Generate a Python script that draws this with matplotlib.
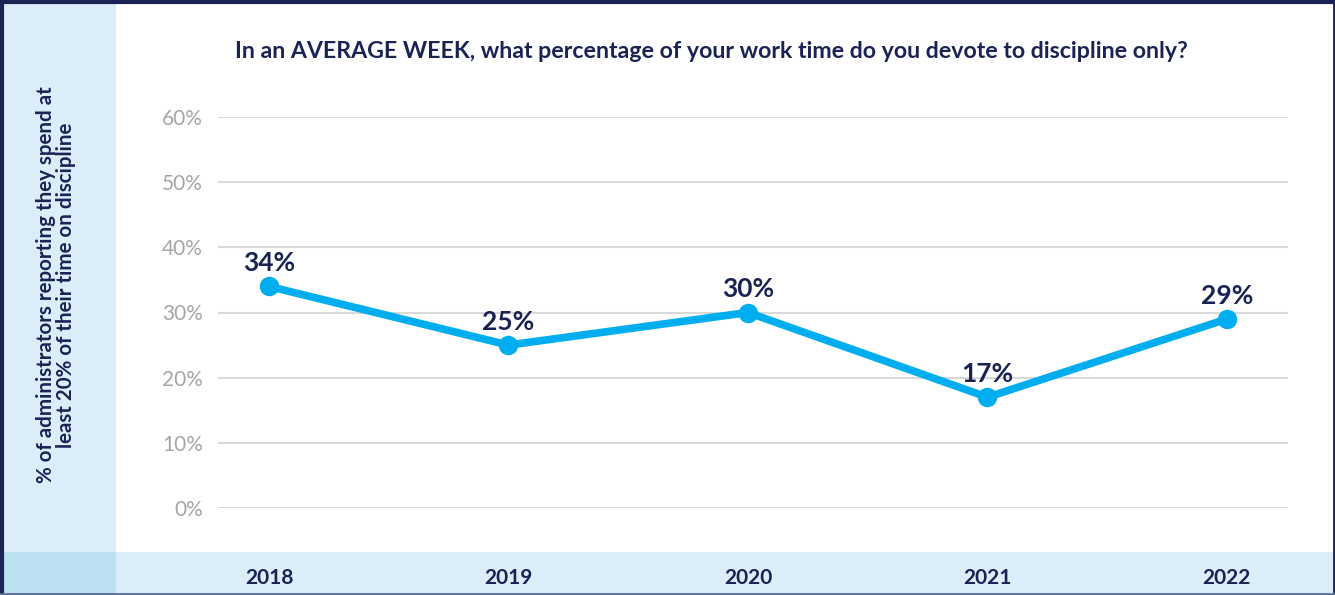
import matplotlib.pyplot as plt
from matplotlib.patches import Rectangle
from matplotlib.lines import Line2D

years = ['2018', '2019', '2020', '2021', '2022']
share = [34, 25, 30, 17, 29]
y_ticks = [0, 10, 20, 30, 40, 50, 60]

NAVY = '#1b2354'
CYAN = '#00aeef'
PALE = '#daedf8'
PALE_DARK = '#bde0f3'
GRID = '#d9d9d9'
TICK = '#a6a6a6'

plt.rcParams['font.family'] = ['Lato', 'DejaVu Sans']

W, H = 1335, 595
fig = plt.figure(figsize=(W / 100, H / 100), dpi=100)
fig.patch.set_facecolor('white')

# side panel and bottom band
for rect, col in [((0, 0, 116, H), PALE), ((0, 0, W, 43), PALE), ((0, 0, 116, 43), PALE_DARK)]:
    x0, y0, w, h = rect
    fig.patches.append(Rectangle((x0 / W, y0 / H), w / W, h / H, transform=fig.transFigure,
                                 facecolor=col, edgecolor='none', zorder=-5))

# frame
fig.lines.append(Line2D([0, 1], [1 - 1.5 / H, 1 - 1.5 / H], transform=fig.transFigure,
                        color=NAVY, lw=3))
fig.lines.append(Line2D([1.5 / W, 1.5 / W], [0, 1], transform=fig.transFigure,
                        color=NAVY, lw=3))
fig.lines.append(Line2D([1 - 1 / W, 1 - 1 / W], [0, 1], transform=fig.transFigure,
                        color=NAVY, lw=2))
fig.lines.append(Line2D([0, 1], [1 / H, 1 / H], transform=fig.transFigure,
                        color='#5b6e9e', lw=2))

ax = fig.add_axes([218 / W, (H - 508) / H, (1288 - 218) / W, (508 - 117) / H])
ax.set_facecolor('none')
ax.set_zorder(2)

x = list(range(len(years)))
ax.plot(x, share, color=CYAN, lw=5.5, marker='o', markersize=13,
        solid_capstyle='round', clip_on=False, zorder=3)
for xi, v in zip(x, share):
    ax.annotate(f'{v}%', (xi, v), xytext=(0, 8), textcoords='offset points',
                ha='center', va='bottom', fontsize=19, fontweight='bold', color=NAVY)

ax.set_ylim(0, 60)
ax.set_xlim(-0.213, 4.255)
ax.set_yticks(y_ticks)
ax.set_yticklabels([f'{t}%' for t in y_ticks])
ax.yaxis.grid(True, color=GRID, lw=1.5)
ax.set_axisbelow(True)
ax.tick_params(axis='y', length=0, pad=11, labelsize=15, labelcolor=TICK)

ax.set_xticks(x)
ax.set_xticklabels(years)
ax.tick_params(axis='x', length=0, pad=43, labelsize=15, labelcolor=NAVY)
for lbl in ax.get_xticklabels():
    lbl.set_fontweight('bold')

for s in ax.spines.values():
    s.set_visible(False)

fig.text(711 / W, 1 - 52 / H,
         'In an AVERAGE WEEK, what percentage of your work time do you devote to discipline only?',
         ha='center', va='center', fontsize=16.7, fontweight='bold', color=NAVY)

fig.text(56 / W, 1 - 285 / H,
         '% of administrators reporting they spend at\nleast 20% of their time on discipline',
         ha='center', va='center', rotation=90, fontsize=14.8, fontweight='bold',
         color=NAVY, linespacing=1.05)

fig.savefig('out.png', dpi=100, facecolor=fig.get_facecolor())
